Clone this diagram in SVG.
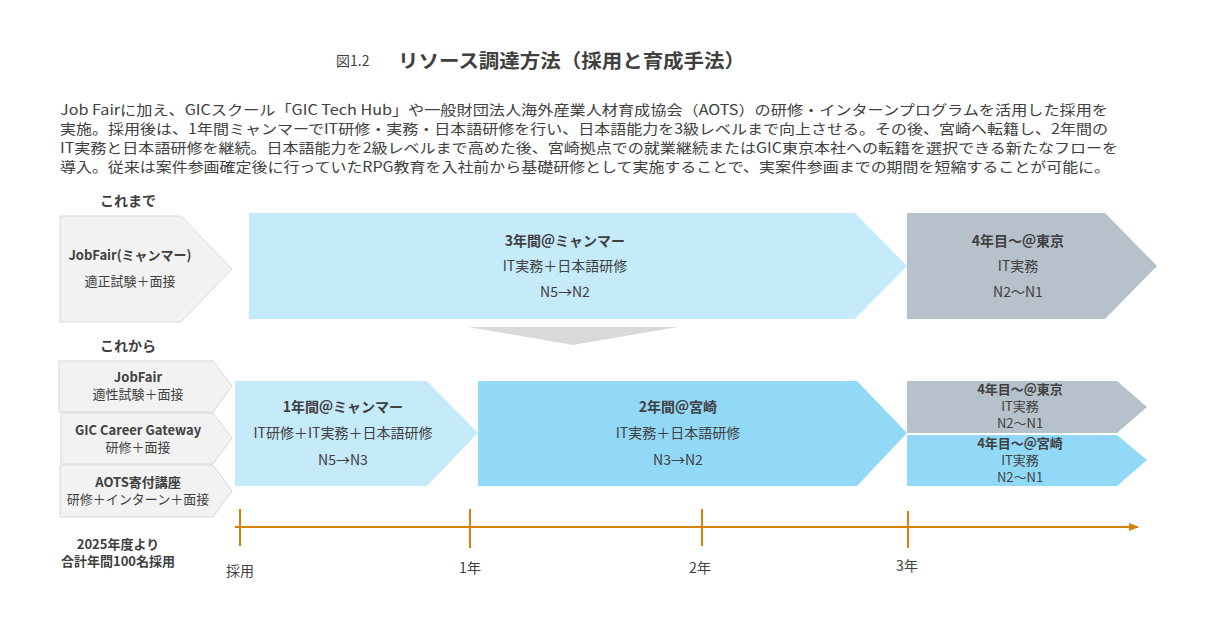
<svg xmlns="http://www.w3.org/2000/svg" width="1218" height="641" viewBox="0 0 1218 641">
<style>
text{font-family:"Noto Sans CJK JP","Noto Sans",sans-serif;fill:#404040}
.b{font-weight:bold}
.g{fill:#f2f2f2;stroke:#d9d9d9;stroke-width:1}
.l{fill:#c5eafa}.m{fill:#92d9f8}.s{fill:#b7c1cc}
.tl{stroke:#d9800a;stroke-width:2;fill:none}
</style>
<defs><marker id="ar" markerWidth="10" markerHeight="8" refX="9" refY="4" orient="auto" markerUnits="userSpaceOnUse"><path d="M0,0L10,4L0,8z" fill="#d9800a"/></marker></defs>
<rect width="1218" height="641" fill="#fff"/>
<text x="336" y="66" font-size="14">図1.2</text>
<text x="398" y="68" font-size="19" class="b" textLength="347" lengthAdjust="spacingAndGlyphs">リソース調達方法（採用と育成手法）</text>
<g font-size="14">
<text x="60" y="115" textLength="1048" lengthAdjust="spacingAndGlyphs">Job Fairに加え、GICスクール「GIC Tech Hub」や一般財団法人海外産業人材育成協会（AOTS）の研修・インターンプログラムを活用した採用を</text>
<text x="60" y="134" textLength="1048" lengthAdjust="spacingAndGlyphs">実施。採用後は、1年間ミャンマーでIT研修・実務・日本語研修を行い、日本語能力を3級レベルまで向上させる。その後、宮崎へ転籍し、2年間の</text>
<text x="60" y="153" textLength="1058" lengthAdjust="spacingAndGlyphs">IT実務と日本語研修を継続。日本語能力を2級レベルまで高めた後、宮崎拠点での就業継続またはGIC東京本社への転籍を選択できる新たなフローを</text>
<text x="60" y="172" textLength="1050" lengthAdjust="spacingAndGlyphs">導入。従来は案件参画確定後に行っていたRPG教育を入社前から基礎研修として実施することで、実案件参画までの期間を短縮することが可能に。</text>
</g>
<text x="128" y="206" font-size="14" class="b" text-anchor="middle">これまで</text>
<text x="128" y="351" font-size="14" class="b" text-anchor="middle">これから</text>
<g id="old-jobfair"><path class="g" d="M60,216H181L232,269L181,322H60z"/>
<text x="130" y="260" font-size="13" class="b" text-anchor="middle">JobFair(ミャンマー)</text>
<text x="130" y="286" font-size="13" text-anchor="middle">適正試験＋面接</text></g>
<g id="old-3y"><path class="l" d="M249,213H855L907,266L855,319H249z"/>
<text x="565" y="246" font-size="14" class="b" text-anchor="middle">3年間＠ミャンマー</text>
<text x="565" y="271" font-size="14" text-anchor="middle">IT実務＋日本語研修</text>
<text x="565" y="297" font-size="14" text-anchor="middle">N5→N2</text></g>
<g id="old-tokyo"><path class="s" d="M907,213H1105L1157,266L1105,319H907z"/>
<text x="1018" y="246" font-size="14" class="b" text-anchor="middle">4年目～＠東京</text>
<text x="1018" y="271" font-size="14" text-anchor="middle">IT実務</text>
<text x="1018" y="297" font-size="14" text-anchor="middle">N2～N1</text></g>
<g id="down"><path d="M468,327H678L573,345z" fill="#d9d9d9"/></g>
<g id="new-jobfair"><path class="g" d="M59,361H213L232,386L213,412H59z"/>
<text x="138" y="382" font-size="13" class="b" text-anchor="middle">JobFair</text>
<text x="138" y="399" font-size="13" text-anchor="middle">適性試験＋面接</text></g>
<g id="new-gic"><path class="g" d="M61,413H213L232,438L213,464H61z"/>
<text x="138" y="435" font-size="13" class="b" text-anchor="middle">GIC Career Gateway</text>
<text x="138" y="452" font-size="13" text-anchor="middle">研修＋面接</text></g>
<g id="new-aots"><path class="g" d="M60,465H213L232,491L213,517H60z"/>
<text x="138" y="487" font-size="13" class="b" text-anchor="middle">AOTS寄付講座</text>
<text x="138" y="504" font-size="13" text-anchor="middle">研修＋インターン＋面接</text></g>
<text x="118" y="549" font-size="13" class="b" text-anchor="middle">2025年度より</text>
<text x="118" y="566" font-size="13" class="b" text-anchor="middle">合計年間100名採用</text>
<g id="new-1y"><path class="l" d="M235,381H427L478,433L427,486H235z"/>
<text x="343" y="412" font-size="14" class="b" text-anchor="middle">1年間＠ミャンマー</text>
<text x="343" y="438" font-size="14" text-anchor="middle">IT研修＋IT実務＋日本語研修</text>
<text x="343" y="465" font-size="14" text-anchor="middle">N5→N3</text></g>
<g id="new-2y"><path class="m" d="M478,381H857L907,433L857,486H478z"/>
<text x="678" y="412" font-size="14" class="b" text-anchor="middle">2年間＠宮崎</text>
<text x="678" y="438" font-size="14" text-anchor="middle">IT実務＋日本語研修</text>
<text x="678" y="465" font-size="14" text-anchor="middle">N3→N2</text></g>
<g id="new-tokyo"><path class="s" d="M907,381H1117L1147,407L1117,433H907z"/>
<text x="1020" y="394" font-size="13" class="b" text-anchor="middle">4年目～＠東京</text>
<text x="1020" y="411" font-size="13" text-anchor="middle">IT実務</text>
<text x="1020" y="428" font-size="13" text-anchor="middle">N2～N1</text></g>
<g id="new-miyazaki"><path class="m" d="M907,435H1117L1147,460L1117,486H907z"/>
<text x="1020" y="448" font-size="13" class="b" text-anchor="middle">4年目～＠宮崎</text>
<text x="1020" y="465" font-size="13" text-anchor="middle">IT実務</text>
<text x="1020" y="482" font-size="13" text-anchor="middle">N2～N1</text></g>
<g id="connectors">
<line class="tl" x1="235" y1="527" x2="1138" y2="527" marker-end="url(#ar)"/>
<line class="tl" x1="240" y1="509" x2="240" y2="546"/>
<line class="tl" x1="470" y1="509" x2="470" y2="548"/>
<line class="tl" x1="702" y1="509" x2="702" y2="546"/>
<line class="tl" x1="908" y1="511" x2="908" y2="548"/>
</g>
<text x="240" y="576" font-size="14" text-anchor="middle">採用</text>
<text x="470" y="573" font-size="14" text-anchor="middle">1年</text>
<text x="700" y="573" font-size="14" text-anchor="middle">2年</text>
<text x="907" y="571" font-size="14" text-anchor="middle">3年</text>
</svg>
